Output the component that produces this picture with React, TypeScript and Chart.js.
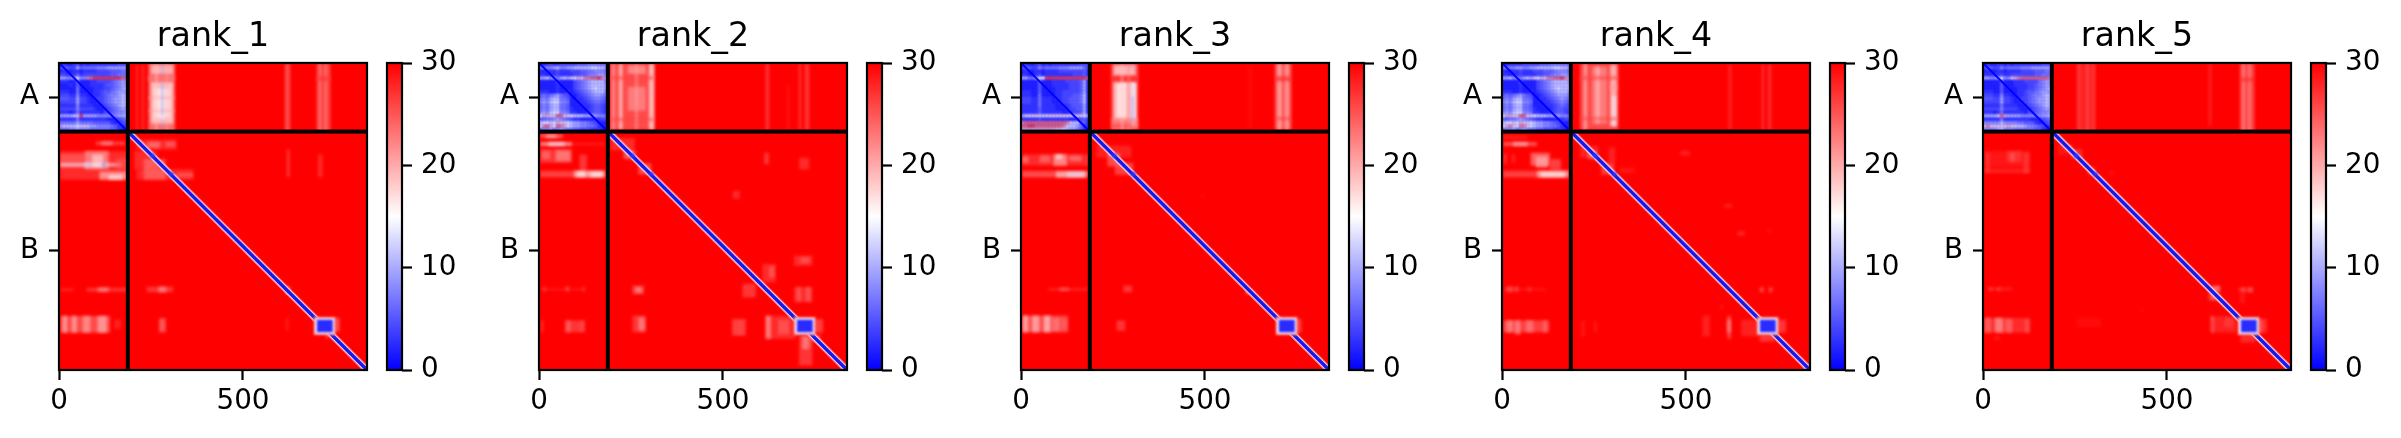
import React, { useEffect, useRef } from "react";
import { Chart, registerables } from "chart.js";

Chart.register(...registerables);

type Patch = number[]; // xStart, xEnd, yStart, yEnd, value

const rankNames = ["rank_1", "rank_2", "rank_3", "rank_4", "rank_5"];
const chainLabels = ["A", "B"];
const chainCentres = [93.5, 512];
const chainBreak = [187];
const residueCount = [837];
const xTickValues = [0, 500];
const colorbarTicks = [0, 10, 20, 30];
const axisLefts = [59, 539, 1021, 1502, 1983];

// Chain A against itself, read on a coarse grid; one hex digit per cell, looked up in chainADigitValues.
const chainADigitValues = [0, 1.5, 3, 4.5, 6, 7.5, 9, 11, 13, 15, 17, 19, 22, 24, 27, 30];
const rank1ChainA = [
  "12112312122222222333",
  "34433745555666777777",
  "12112212222333344455",
  "33222423333333344555",
  "77667966cdeeeeeeeedd",
  "22211511122333345677",
  "11121411122223445677",
  "11111511112223345678",
  "22211511112234456777",
  "33322622112234566788",
  "44433733212334567788",
  "33333733211234567788",
  "22222622221123456788",
  "33333633332112345677",
  "22212522222213345667",
  "77778ae7777666666778",
  "22222522222222112345",
  "55555755554444421234",
  "7a88898a877666654222",
  "55566766655555544211",
];
const rank2ChainA = [
  "21232233333444555555",
  "56667866778888899a87",
  "21222322233344556665",
  "22122322223344566776",
  "778675787a9baccddecb",
  "11111311113456788886",
  "11111211113456788887",
  "11111211113456789887",
  "22211211212345678886",
  "45456754311234567765",
  "56578855411223456654",
  "67689966511122345543",
  "56578855411112234432",
  "56578855421111234432",
  "67689966522111234432",
  "9bbaaddaa98887777665",
  "44556765432211112233",
  "899a9baa987766543211",
  "9cdb9dcb987766554211",
  "56675676554433322211",
];
const rank3ChainA = [
  "12112312122222222333",
  "34433645555666777753",
  "12112212222333333342",
  "22112312222222233342",
  "7755799eeeeeeeeeeeed",
  "11111411122223333472",
  "11111411122222333472",
  "11111411112222333472",
  "22211411112233333472",
  "22211511112233344582",
  "33322522212233444582",
  "33322522211233444582",
  "22222522221122344472",
  "22222422221112334472",
  "22222422222211233472",
  "7aaaaa8aaaaaaaaaaa97",
  "22222322222222112342",
  "cddddddddddddca88542",
  "ddeeddddddddca887522",
  "bbbbbbbbbbaa98776421",
];
const rank4ChainA = [
  "21222233333444555555",
  "56667766778888899a87",
  "21222322233344456665",
  "22122322223344566776",
  "778665787a9baccddecb",
  "11111311113456788887",
  "11111211113456788888",
  "11111211113456789888",
  "22211211212345678887",
  "45456754311234567776",
  "56578855411223456765",
  "67689966511122345654",
  "56578855411112234543",
  "56578855421111234433",
  "67689966522111234432",
  "9bbaaddaa98887777665",
  "44556765432211112233",
  "899a9baa987766543211",
  "9bca9cca987766554211",
  "56675676554433322211",
];
const rank5ChainA = [
  "12112212122222222333",
  "34433645555666777777",
  "12112212222333344455",
  "22222322333333344555",
  "77667966abcddddddddc",
  "11111411122233335677",
  "11111411122223345677",
  "11111411112223345678",
  "22211411112234456777",
  "33322622112234566788",
  "44433733212334567788",
  "33333733211234567788",
  "22222522221123456788",
  "33333633332112345677",
  "22212522222213345667",
  "7777adb7777666666778",
  "22222522222222112345",
  "66666866665544421234",
  "acaaaaabaa8876654322",
  "66667866655555544211",
];
const rankChainA = [rank1ChainA, rank2ChainA, rank3ChainA, rank4ChainA, rank5ChainA];

const sharedBlobs: Patch[] = [
  [692, 752, 692, 742, 23], [696, 748, 696, 738, 14], [701, 744, 700, 734, 2.5],
  [248, 259, 247, 258, 3], [300, 311, 298, 308, 3],
];

const rank1Patches: Patch[] = [
  [243, 315, 0, 187, 20], [250, 310, 6, 30, 17], [250, 310, 52, 165, 15.5], [260, 300, 70, 150, 15],
  [243, 315, 34, 50, 23], [243, 315, 92, 97, 21], [243, 315, 128, 133, 21],
  [262, 268, 0, 187, 19], [291, 296, 0, 187, 20], [278, 284, 4, 15, 9], [278, 284, 20, 32, 9], [278, 284, 52, 145, 9], [278, 284, 155, 175, 10],
  [210, 216, 5, 187, 26], [225, 232, 5, 187, 26],
  [614, 628, 2, 187, 23], [700, 738, 2, 187, 24], [707, 712, 2, 187, 20], [722, 728, 2, 187, 21], [700, 738, 36, 50, 27],
  [100, 180, 214, 224, 24], [115, 145, 214, 224, 21],
  [3, 187, 241, 318, 26], [3, 70, 248, 285, 24], [70, 135, 240, 290, 20], [90, 120, 250, 285, 17], [110, 187, 296, 318, 18], [135, 172, 305, 318, 16],
  [3, 170, 273, 282, 14], [68, 85, 271, 284, 12], [117, 127, 271, 284, 8], [155, 187, 260, 290, 25],
  [75, 187, 613, 623, 25], [105, 135, 612, 624, 21], [3, 40, 615, 621, 26],
  [3, 139, 690, 735, 23], [10, 22, 690, 735, 19], [35, 48, 690, 735, 19], [65, 85, 690, 735, 20], [105, 130, 690, 735, 19], [150, 168, 700, 725, 27],
  [211, 320, 209, 236, 26], [240, 275, 215, 232, 22], [290, 315, 215, 228, 23],
  [205, 265, 240, 290, 26], [211, 365, 290, 318, 26], [230, 290, 262, 318, 23], [320, 365, 300, 312, 24],
  [619, 627, 236, 312, 25], [704, 716, 250, 312, 26],
  [238, 310, 610, 625, 25], [270, 292, 610, 625, 21], [272, 290, 696, 734, 22], [617, 627, 610, 630, 18],
  [750, 762, 695, 732, 22], [617, 623, 695, 730, 27], [725, 735, 735, 750, 23],
];

const rank2Patches: Patch[] = [
  [195, 313, 2, 182, 23], [217, 227, 2, 182, 16], [299, 313, 2, 182, 15], [240, 290, 6, 30, 20], [240, 290, 65, 130, 21], [195, 208, 2, 182, 21],
  [195, 313, 36, 46, 26], [195, 313, 150, 158, 26], [235, 240, 2, 182, 26], [262, 268, 2, 182, 20],
  [616, 625, 2, 182, 25], [707, 712, 2, 182, 24], [722, 734, 2, 182, 25], [675, 680, 60, 182, 28],
  [3, 65, 195, 204, 21], [20, 48, 195, 204, 18], [3, 90, 216, 226, 17], [25, 70, 216, 226, 14], [90, 180, 219, 223, 26],
  [3, 90, 235, 272, 25], [45, 85, 238, 268, 21], [8, 30, 240, 262, 23], [110, 130, 250, 295, 25],
  [3, 187, 294, 312, 24], [95, 177, 294, 312, 17], [105, 125, 296, 310, 15], [140, 172, 298, 310, 15],
  [12, 18, 610, 622, 23], [72, 82, 610, 622, 23], [118, 124, 610, 622, 24], [3, 120, 615, 619, 27],
  [5, 12, 702, 734, 26], [70, 115, 702, 734, 25], [75, 85, 702, 734, 23], [112, 125, 702, 734, 24],
  [195, 260, 205, 238, 26], [230, 262, 238, 262, 22], [270, 305, 274, 304, 23],
  [254, 285, 607, 630, 24], [262, 280, 612, 626, 21], [254, 290, 689, 734, 25], [270, 288, 694, 730, 21],
  [612, 625, 245, 276, 25], [707, 734, 258, 290, 26], [527, 545, 348, 370, 26],
  [607, 643, 548, 598, 26], [625, 640, 555, 585, 24], [553, 589, 602, 639, 25], [693, 743, 525, 553, 26], [710, 735, 530, 545, 24],
  [693, 743, 611, 652, 26], [700, 712, 611, 650, 24], [725, 738, 611, 650, 24],
  [525, 562, 698, 743, 24], [540, 552, 705, 740, 26], [616, 698, 689, 752, 26], [616, 630, 689, 752, 20], [650, 680, 700, 740, 24],
  [707, 743, 743, 824, 25], [715, 735, 745, 780, 21], [745, 772, 698, 735, 24], [735, 765, 740, 760, 25],
];

const rank3Patches: Patch[] = [
  [246, 318, 2, 182, 21], [252, 310, 6, 34, 16], [252, 312, 52, 155, 15.5], [262, 285, 55, 150, 15], [298, 312, 55, 170, 15],
  [246, 318, 36, 50, 29], [246, 318, 150, 178, 22], [246, 300, 168, 174, 28],
  [290, 296, 2, 182, 22], [300, 307, 8, 16, 10], [300, 307, 90, 158, 9], [300, 307, 55, 90, 12],
  [272, 278, 2, 182, 19],
  [690, 735, 2, 182, 22], [697, 708, 2, 182, 18], [718, 727, 2, 182, 18], [690, 735, 36, 50, 28], [690, 735, 148, 155, 27],
  [620, 624, 5, 180, 28],
  [3, 187, 249, 280, 26], [3, 20, 255, 272, 22], [50, 80, 252, 272, 23], [88, 125, 249, 280, 19], [95, 112, 250, 262, 16], [130, 165, 252, 268, 22],
  [3, 187, 294, 312, 23], [95, 177, 296, 312, 17], [125, 172, 298, 310, 13],
  [75, 180, 614, 620, 26], [105, 130, 612, 622, 24],
  [3, 128, 689, 734, 23], [5, 20, 689, 734, 18], [30, 50, 689, 734, 18], [62, 80, 689, 734, 17], [85, 105, 695, 730, 22], [110, 125, 700, 725, 24],
  [205, 300, 225, 258, 27], [235, 268, 245, 282, 23], [255, 305, 272, 305, 24],
  [260, 283, 702, 730, 25], [278, 302, 607, 625, 25], [612, 620, 615, 630, 19], [490, 496, 360, 365, 27],
  [748, 762, 698, 735, 24],
];

const rank4Patches: Patch[] = [
  [212, 316, 2, 182, 23], [222, 231, 2, 182, 18], [294, 312, 5, 172, 16], [299, 310, 90, 172, 14], [245, 285, 10, 165, 21], [255, 265, 10, 165, 18],
  [212, 316, 36, 46, 26], [212, 316, 148, 156, 26], [295, 312, 60, 75, 21],
  [616, 623, 5, 182, 26], [707, 712, 5, 182, 24], [722, 732, 5, 182, 26],
  [3, 70, 200, 206, 26], [3, 95, 216, 226, 22], [30, 70, 216, 226, 18],
  [78, 130, 245, 280, 21], [92, 125, 255, 285, 19], [5, 12, 248, 275, 25], [28, 34, 250, 272, 25], [130, 160, 262, 292, 24],
  [3, 187, 294, 312, 24], [95, 180, 294, 312, 18], [105, 170, 298, 310, 15],
  [12, 30, 610, 624, 23], [35, 44, 610, 624, 23], [70, 80, 612, 622, 25], [3, 120, 615, 619, 27],
  [3, 128, 702, 734, 24], [12, 30, 702, 734, 21], [35, 50, 702, 740, 21], [65, 85, 702, 734, 22], [112, 122, 702, 734, 23],
  [215, 225, 702, 745, 28], [250, 258, 705, 735, 28],
  [212, 262, 226, 258, 27], [232, 258, 240, 262, 23], [270, 305, 272, 304, 24], [290, 308, 230, 272, 27], [320, 360, 286, 300, 28],
  [485, 510, 240, 252, 27], [605, 625, 385, 395, 27], [720, 730, 455, 460, 27], [595, 600, 660, 670, 27], [640, 660, 460, 470, 26],
  [612, 622, 689, 752, 24], [612, 622, 700, 735, 21], [650, 698, 700, 745, 27], [545, 565, 689, 745, 27],
  [700, 712, 611, 625, 24], [725, 735, 611, 625, 24], [700, 740, 740, 760, 25], [745, 772, 700, 735, 25],
];

const rank5Patches: Patch[] = [
  [255, 305, 2, 187, 27], [258, 266, 2, 187, 26], [280, 288, 2, 187, 25], [296, 304, 2, 187, 26],
  [614, 620, 2, 170, 26],
  [698, 738, 2, 187, 24], [704, 712, 2, 187, 21], [720, 728, 2, 187, 21], [698, 738, 40, 50, 28],
  [3, 128, 240, 285, 28], [65, 105, 240, 270, 26], [75, 85, 245, 270, 24], [3, 128, 288, 300, 27], [8, 18, 245, 300, 26], [110, 125, 245, 300, 26],
  [15, 80, 612, 620, 27], [15, 25, 612, 620, 25], [38, 48, 612, 620, 25],
  [3, 128, 695, 735, 26], [5, 22, 695, 735, 23], [32, 55, 695, 735, 20], [60, 80, 698, 735, 23], [115, 125, 700, 735, 24], [30, 45, 745, 755, 28],
  [205, 245, 222, 250, 28], [240, 270, 235, 262, 26], [285, 305, 285, 305, 26], [345, 355, 296, 305, 28],
  [612, 644, 608, 648, 26], [620, 632, 610, 645, 22], [628, 644, 608, 622, 21], [617, 689, 690, 735, 27], [620, 628, 690, 735, 24], [655, 680, 695, 720, 26],
  [695, 735, 612, 625, 26], [704, 710, 612, 625, 23], [722, 730, 612, 625, 23], [698, 712, 625, 655, 28],
  [700, 740, 735, 762, 26], [745, 772, 698, 735, 26], [750, 760, 700, 735, 24],
  [255, 320, 695, 720, 29], [428, 434, 672, 678, 28],
];

const rankPatches = [rank1Patches, rank2Patches, rank3Patches, rank4Patches, rank5Patches];

const FONT = "'DejaVu Sans'";
const valueMax = 30;

function bwr(v: number): string {
  const t = Math.min(Math.max(v / valueMax, 0), 1);
  if (t <= 0.5) {
    const c = Math.round(510 * t);
    return `rgb(${c},${c},255)`;
  }
  const c = Math.round(510 * (1 - t));
  return `rgb(255,${c},${c})`;
}

const framePlugin = {
  id: "frame",
  afterDraw(chart: any) {
    const { ctx, chartArea: a } = chart;
    ctx.save();
    ctx.strokeStyle = "#000";
    ctx.lineWidth = 2.2;
    ctx.strokeRect(a.left, a.top, a.right - a.left, a.bottom - a.top);
    ctx.restore();
  },
};

function paintCells(chart: any, label: string, blur: string, opacity: number) {
  const { ctx, chartArea: a, scales } = chart;
  const cells = chart.data.datasets.find((d: any) => d.label === label).data;
  ctx.save();
  ctx.beginPath();
  ctx.rect(a.left, a.top, a.right - a.left, a.bottom - a.top);
  ctx.clip();
  ctx.filter = blur;
  ctx.globalAlpha = opacity;
  for (const c of cells) {
    const x0 = scales.x.getPixelForValue(c.x);
    const x1 = scales.x.getPixelForValue(c.x2);
    const y0 = scales.y.getPixelForValue(c.y);
    const y1 = scales.y.getPixelForValue(c.y2);
    ctx.fillStyle = bwr(c.v);
    ctx.fillRect(x0, y0, x1 - x0, y1 - y0);
  }
  ctx.restore();
}

const heatPlugin = {
  id: "heat",
  beforeDatasetsDraw(chart: any) {
    const { ctx, chartArea: a } = chart;
    ctx.save();
    ctx.fillStyle = bwr(valueMax);
    ctx.fillRect(a.left, a.top, a.right - a.left, a.bottom - a.top);
    ctx.restore();
    paintCells(chart, "PAE", "blur(1.8px)", 0.62);
    paintCells(chart, "PAE chain A", "blur(1.1px)", 1);
  },
  afterDatasetsDraw(chart: any) {
    paintCells(chart, "PAE domains", "blur(0.8px)", 1);
    const { ctx, chartArea: a, scales } = chart;
    const b = chainBreak[0];
    ctx.save();
    ctx.fillStyle = "#000";
    ctx.fillRect(scales.x.getPixelForValue(b) - 2, a.top, 4, a.bottom - a.top);
    ctx.fillRect(a.left, scales.y.getPixelForValue(b) - 2, a.right - a.left, 4);
    ctx.restore();
  },
};

const fixSize = (w: number | null, h: number | null) => (scale: any) => {
  if (w !== null) scale.width = w;
  if (h !== null) scale.height = h;
  scale.paddingTop = 0;
  scale.paddingBottom = 0;
  scale.paddingLeft = 0;
  scale.paddingRight = 0;
};

function line(points: { x: number; y: number }[], color: string, width: number) {
  return {
    type: "line" as const,
    label: "",
    data: points,
    borderColor: color,
    borderWidth: width,
    pointRadius: 0,
    tension: 0,
    fill: false,
    borderCapStyle: "butt" as const,
  };
}

const toCells = (list: Patch[]) => list.map((p) => ({ x: p[0], x2: p[1], y: p[2], y2: p[3], v: p[4] }));

function gridCells(rows: string[]) {
  const step = chainBreak[0] / rows.length;
  const out: { x: number; x2: number; y: number; y2: number; v: number }[] = [
    { x: 0, x2: chainBreak[0], y: 0, y2: chainBreak[0], v: 3 },
  ];
  rows.forEach((row, r) => {
    row.split("").forEach((ch, c) => {
      out.push({ x: c * step, x2: (c + 1) * step, y: r * step, y2: (r + 1) * step, v: chainADigitValues[parseInt(ch, 16)] });
    });
  });
  return out;
}

const tickGrid = { drawOnChartArea: false, drawTicks: true, tickLength: 10, tickWidth: 2.2, tickColor: "#000" };

function HeatPanel({ index }: { index: number }) {
  const ref = useRef<HTMLCanvasElement>(null);
  useEffect(() => {
    const n = residueCount[0];
    const b = chainBreak[0];
    const chart = new Chart(ref.current!, {
      type: "scatter",
      data: {
        datasets: [
          line([{ x: 0, y: 0 }, { x: b, y: b }], "rgb(0,0,255)", 2),
          line([{ x: b, y: b }, { x: n, y: n }], "rgb(25,25,235)", 3.4),
          line([{ x: b, y: b }, { x: n, y: n }], "rgba(240,240,255,0.9)", 5),
          line([{ x: b, y: b }, { x: n, y: n }], "rgba(255,170,170,0.7)", 7),
          { label: "PAE", data: toCells(rankPatches[index]), pointRadius: 0, showLine: false } as any,
          { label: "PAE chain A", data: gridCells(rankChainA[index]), pointRadius: 0, showLine: false } as any,
          { label: "PAE domains", data: toCells(sharedBlobs), pointRadius: 0, showLine: false } as any,
        ] as any,
      },
      options: {
        responsive: false,
        animation: false,
        devicePixelRatio: 1,
        layout: { padding: { left: 0, right: 13, top: 0, bottom: 0 } },
        plugins: {
          legend: { display: false },
          tooltip: { enabled: false },
          title: {
            display: true,
            text: rankNames[index],
            color: "#000",
            fullSize: false,
            font: { family: FONT, size: 33.3, weight: "normal" },
            padding: { top: 17, bottom: 6 },
          },
        },
        scales: {
          x: {
            type: "linear",
            min: 0,
            max: n,
            afterBuildTicks: (s: any) => { s.ticks = xTickValues.map((value) => ({ value })); },
            afterFit: fixSize(null, 68),
            ticks: { color: "#000", font: { family: FONT, size: 27.8 }, padding: 5, maxRotation: 0, callback: (v: any) => String(v) },
            grid: tickGrid,
            border: { display: false },
          },
          y: {
            type: "linear",
            reverse: true,
            min: 0,
            max: n,
            afterBuildTicks: (s: any) => { s.ticks = chainCentres.map((value) => ({ value })); },
            afterFit: fixSize(59, null),
            ticks: {
              color: "#000",
              font: { family: FONT, size: 27.8 },
              padding: 10,
              callback: (v: any) => chainLabels[chainCentres.indexOf(Number(v))] ?? "",
            },
            grid: tickGrid,
            border: { display: false },
          },
        },
      } as any,
      plugins: [heatPlugin, framePlugin],
    });
    return () => chart.destroy();
  }, [index]);
  return (
    <canvas
      ref={ref}
      width={380}
      height={438}
      style={{ position: "absolute", left: axisLefts[index] - 59, top: 0, display: "block" }}
    />
  );
}

function ColorBar({ index }: { index: number }) {
  const ref = useRef<HTMLCanvasElement>(null);
  useEffect(() => {
    const chart = new Chart(ref.current!, {
      type: "bar",
      data: {
        labels: ["PAE"],
        datasets: [
          {
            data: [[0, valueMax]],
            barPercentage: 1,
            categoryPercentage: 1,
            backgroundColor: (c: any) => {
              const a = c.chart.chartArea;
              if (!a) return "#fff";
              const g = c.chart.ctx.createLinearGradient(0, a.bottom, 0, a.top);
              g.addColorStop(0, bwr(0));
              g.addColorStop(0.5, bwr(valueMax / 2));
              g.addColorStop(1, bwr(valueMax));
              return g;
            },
          } as any,
        ],
      },
      options: {
        responsive: false,
        animation: false,
        devicePixelRatio: 1,
        layout: { padding: { left: 8, right: 0, top: 63, bottom: 68 } },
        plugins: { legend: { display: false }, tooltip: { enabled: false }, title: { display: false } },
        scales: {
          x: { display: false, afterFit: fixSize(null, 0) },
          y: {
            position: "right",
            type: "linear",
            min: 0,
            max: valueMax,
            afterBuildTicks: (s: any) => { s.ticks = colorbarTicks.map((value) => ({ value })); },
            afterFit: fixSize(87, null),
            ticks: { color: "#000", font: { family: FONT, size: 27.8 }, padding: 9 },
            grid: tickGrid,
            border: { display: false },
          },
        },
      } as any,
      plugins: [framePlugin],
    });
    return () => chart.destroy();
  }, [index]);
  return (
    <canvas
      ref={ref}
      width={110}
      height={438}
      style={{ position: "absolute", left: axisLefts[index] + 320, top: 0, display: "block" }}
    />
  );
}

export default function App() {
  return (
    <div style={{ position: "absolute", left: 0, top: 0, width: 2401, height: 438, background: "#fff", overflow: "hidden" }}>
      {rankNames.map((_, i) => (
        <React.Fragment key={i}>
          <HeatPanel index={i} />
          <ColorBar index={i} />
        </React.Fragment>
      ))}
    </div>
  );
}
